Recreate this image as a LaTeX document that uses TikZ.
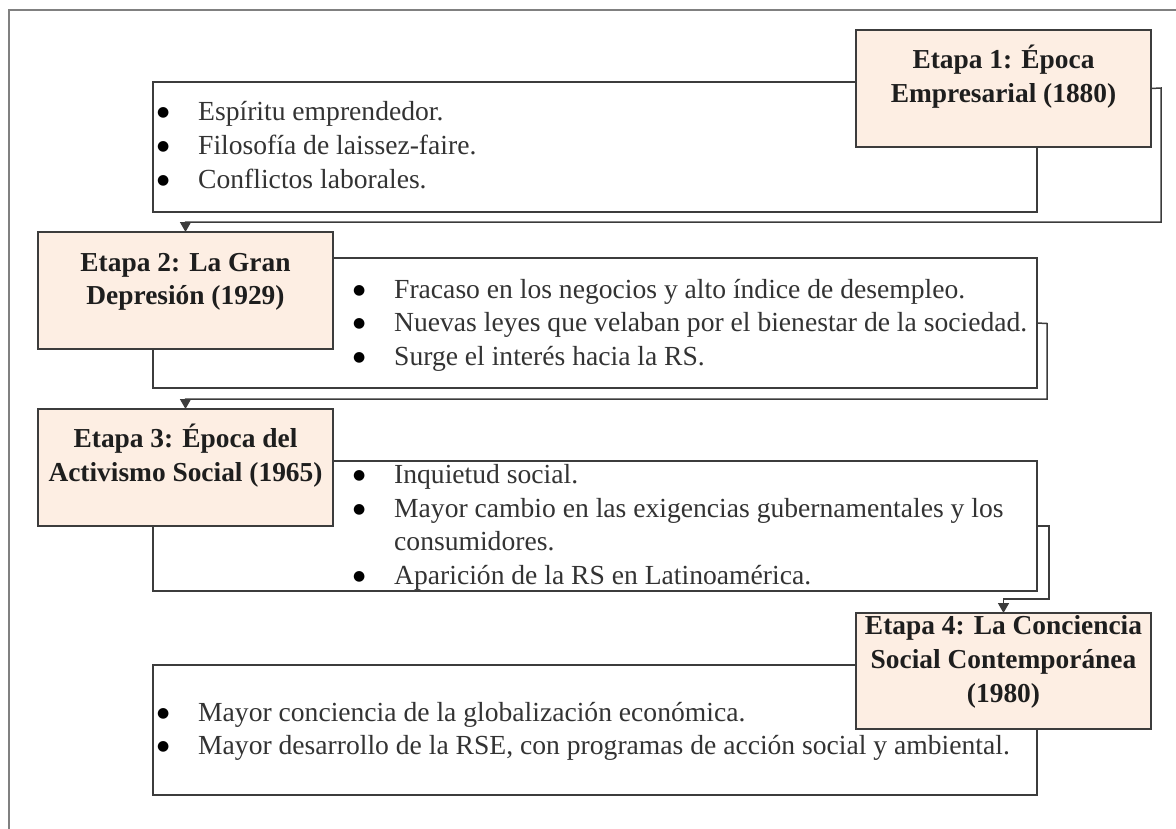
\documentclass[tikz,border=0pt]{standalone}
\usepackage{fontspec}
\setmainfont{Liberation Serif}
\newfontfamily\symfont{DejaVu Sans}
\usetikzlibrary{arrows.meta}
\definecolor{peach}{HTML}{FDEEE3}
\definecolor{edge}{HTML}{3C3C3C}
\definecolor{framegray}{HTML}{808080}
\definecolor{bodytext}{HTML}{333333}
\definecolor{titletext}{HTML}{1E1E1E}
\newcommand{\bl}{\makebox[41pt][l]{\raisebox{4pt}{\symfont\fontsize{14}{14}\selectfont\textcolor{black}{●}}}}
\newcommand{\nb}{\makebox[41pt][l]{}}
\tikzset{
  stagebox/.style={draw=edge, fill=peach, line width=1.5pt, minimum width=295pt, minimum height=117pt, inner sep=0pt, outer sep=0pt, anchor=north west},
  textbox/.style={draw=edge, fill=white, line width=1.5pt, minimum width=884pt, minimum height=130pt, inner sep=0pt, outer sep=0pt, anchor=north west},
  bodyline/.style={anchor=base west, inner sep=0pt, text=bodytext, font=\fontsize{27.6}{34}\selectfont},
  titleline/.style={anchor=base, inner sep=0pt, text=titletext, font=\fontsize{27.4}{34}\selectfont\bfseries},
  conn/.style={draw=edge, line width=1.5pt, -{Triangle[width=11pt,length=10pt]}},
  frameline/.style={draw=framegray, line width=2.5pt}
}
\begin{document}
\begin{tikzpicture}[x=1pt, y=-1pt]
\useasboundingbox (0,0) rectangle (1176,828);
\draw[frameline] (9,830) -- (9,10) -- (1178,10);

% text boxes
\node[textbox] (t1) at (153,82) {};
\node[textbox] (t2) at (153,258) {};
\node[textbox] (t3) at (153,461) {};
\node[textbox] (t4) at (153,665) {};

% stage boxes
\node[stagebox] (s1) at (856,30) {};
\node[stagebox] (s2) at (38,232) {};
\node[stagebox] (s3) at (38,409) {};
\node[stagebox, minimum height=116pt] (s4) at (856,613) {};

% connectors
\coordinate (c1a) at (1161,88);
\coordinate (c1b) at (1161,222);
\draw[conn] (s1.east) -- (c1a) -- (c1b) -| (s2.north);
\coordinate (c2a) at (1047,323.5);
\coordinate (c2b) at (1047,399);
\draw[conn] (t2.east) -- (c2a) -- (c2b) -| (s3.north);
\coordinate (c3a) at (1049,526);
\coordinate (c3b) at (1049,599);
\draw[conn] (t3.east) -- (c3a) -- (c3b) -| (s4.north);

% titles
\node[titleline] (h1a) at (1003.5,68) {Etapa 1: Época};
\node[titleline] (h1b) at (1003.5,102) {Empresarial (1880)};
\node[titleline] (h2a) at (185.5,271) {Etapa 2: La Gran};
\node[titleline] (h2b) at (185.5,304) {Depresión (1929)};
\node[titleline] (h3a) at (185.5,447) {Etapa 3: Época del};
\node[titleline] (h3b) at (185.5,481) {Activismo Social (1965)};
\node[titleline] (h4a) at (1003.5,634) {Etapa 4: La Conciencia};
\node[titleline] (h4b) at (1003.5,668) {Social Contemporánea};
\node[titleline] (h4c) at (1003.5,702) {(1980)};

% body text
\node[bodyline] (b11) at (157,120) {\bl Espíritu emprendedor.};
\node[bodyline] (b12) at (157,154) {\bl Filosofía de laissez-faire.};
\node[bodyline] (b13) at (157,188) {\bl Conflictos laborales.};

\node[bodyline] (b21) at (353,298) {\bl Fracaso en los negocios y alto índice de desempleo.};
\node[bodyline] (b22) at (353,331.5) {\bl Nuevas leyes que velaban por el bienestar de la sociedad.};
\node[bodyline] (b23) at (353,365) {\bl Surge el interés hacia la RS.};

\node[bodyline] (b31) at (353,483) {\bl Inquietud social.};
\node[bodyline] (b32) at (353,517) {\bl Mayor cambio en las exigencias gubernamentales y los};
\node[bodyline] (b33) at (353,550) {\nb consumidores.};
\node[bodyline] (b34) at (353,584) {\bl Aparición de la RS en Latinoamérica.};

\node[bodyline] (b41) at (157,721) {\bl Mayor conciencia de la globalización económica.};
\node[bodyline] (b42) at (157,754) {\bl Mayor desarrollo de la RSE, con programas de acción social y ambiental.};
\end{tikzpicture}
\end{document}
